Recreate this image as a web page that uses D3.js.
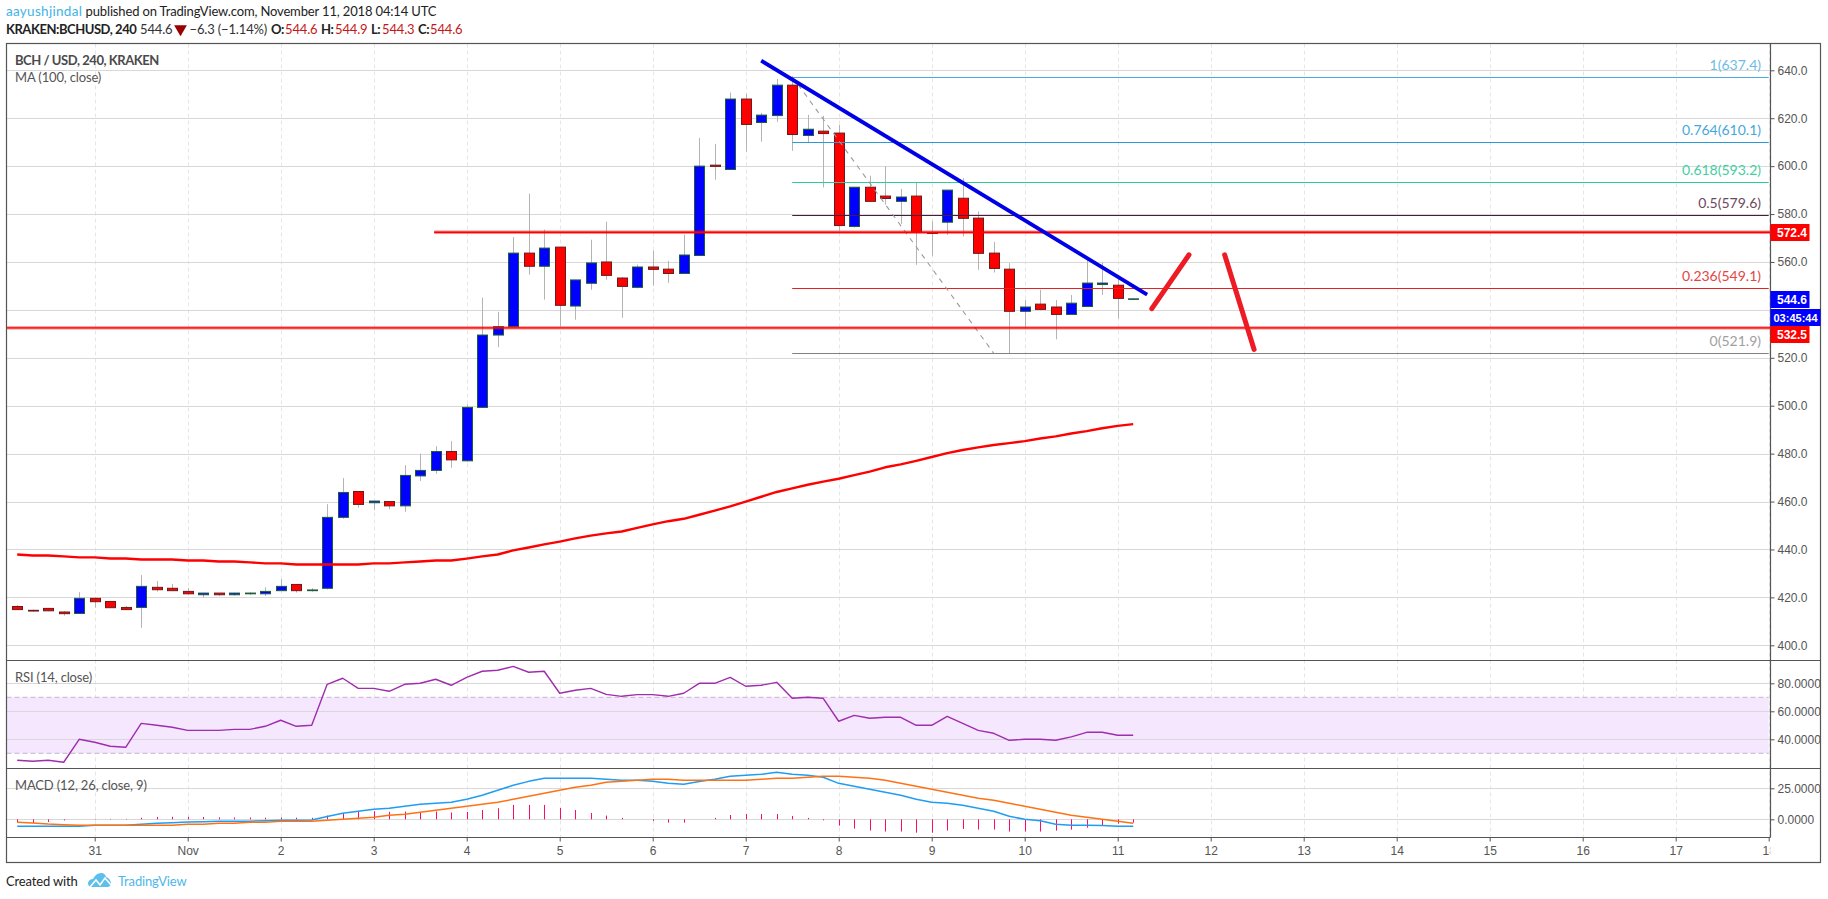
<!DOCTYPE html>
<html>
<head>
<meta charset="utf-8">
<title>BCHUSD 240</title>
<script src="https://cdn.jsdelivr.net/npm/d3@7"></script>
<style>
  html, body { margin: 0; padding: 0; background: #fff; }
  text { font-family: Lato, "Open Sans", sans-serif; }
  .axis text { font-family: "Liberation Sans", Arial, sans-serif; font-size: 12px; fill: #555; }
  .axis line { stroke: #555; }
  .axis path { display: none; }
</style>
</head>
<body>
<svg id="chart" width="1828" height="899"></svg>
<script>
// pane edges
const frame = {left: 6.5, right: 1820.5, top: 43.5, bottom: 862.5, axisX: 1770.5, xAxisY: 837.5};
const panes = {main: [43.5, 660.5], rsi: [660.5, 768.5], macd: [768.5, 837.5]};

// 4h candles, i = candles after Nov 1 00:00 [i, open, high, low, close]
const candles = [
  [-11,416.2,416.8,414.8,414.9],[-10,414.6,414.9,414.0,414.3],[-9,415.4,415.6,414.2,414.4],[-8,413.9,414.3,412.4,413.2],
  [-7,413.3,422.2,413.3,419.6],[-6,419.6,420.0,415.7,418.2],[-5,418.3,418.4,415.7,415.7],[-4,415.8,416.4,414.7,414.9],
  [-3,415.8,429.3,407.3,424.6],[-2,424.2,426.8,422.4,423.2],[-1,423.8,425.6,422.8,422.8],[0,422.5,423.9,421.1,421.5],
  [1,421.1,421.8,419.9,421.8],[2,421.8,421.8,420.6,421.1],[3,421.1,421.9,420.7,421.8],[4,421.5,422.1,421.0,421.8],
  [5,421.5,424.2,420.6,422.5],[6,422.8,427.6,422.8,424.6],[7,425.4,425.4,422.0,422.8],[8,422.8,423.8,422.4,423.1],
  [9,423.8,458.9,423.3,453.4],[10,453.4,469.8,452.8,463.8],[11,464.2,464.2,457.4,458.8],[12,459.5,460.2,456.4,460.2],
  [13,460.0,460.0,456.8,458.2],[14,458.2,475.2,455.7,470.9],[15,470.7,480.0,468.6,473.0],[16,473.0,483.1,471.6,480.9],
  [17,480.9,485.2,474.1,477.4],[18,477.0,500.5,476.6,499.3],[19,499.3,545.1,499.0,529.5],[20,529.5,539.2,524.4,533.0],
  [21,533.0,570.4,533.0,563.7],[22,563.7,588.5,554.7,558.2],[23,558.2,573.5,544.3,565.8],[24,566.2,566.2,533.1,541.9],
  [25,541.6,552.5,535.9,552.5],[26,551.1,569.3,548.4,559.6],[27,560.0,576.8,552.6,554.4],[28,553.3,553.7,536.7,549.8],
  [29,549.4,558.9,549.0,557.9],[30,557.9,564.7,550.1,556.9],[31,557.0,560.5,551.3,555.2],[32,555.2,571.4,555.2,562.9],
  [33,562.7,611.8,562.7,600.0],[34,600.4,609.3,594.3,599.9],[35,598.6,630.7,598.6,628.0],[36,628.0,630.2,606.0,617.4],
  [37,618.2,622.3,610.2,621.3],[38,621.1,636.4,618.5,633.8],[39,633.8,637.4,606.4,613.2],[40,612.8,621.4,610.0,615.4],
  [41,614.6,621.0,591.1,613.6],[42,613.8,617.2,573.0,575.2],[43,574.8,591.2,574.4,591.2],[44,591.2,596.0,585.3,585.3],
  [45,587.5,600.0,583.9,586.5],[46,585.3,590.5,575.9,587.1],[47,587.5,593.3,558.8,572.3],[48,572.3,577.0,562.6,571.9],
  [49,576.6,590.0,571.3,590.0],[50,586.6,595.0,570.7,578.2],[51,578.3,581.1,556.7,563.6],[52,563.7,568.4,555.6,557.3],
  [53,557.0,559.5,521.9,539.4],[54,539.4,544.1,532.0,541.2],[55,542.4,548.4,539.8,540.2],[56,541.2,544.1,527.7,538.1],
  [57,538.1,546.2,538.1,542.8],[58,541.4,561.6,541.4,551.2],[59,550.6,559.8,546.3,551.2],[60,550.3,554.0,536.4,544.8],
  [61,544.6,544.9,544.3,544.6]
];

// all indicator lists start at i = -11
const firstIndex = -11;
const ma100 = [437.9,437.5,437.5,437.1,436.7,436.7,436.2,436.2,435.8,435.8,435.8,435.4,435.4,435,435,434.6,434.2,434.2,433.7,433.7,433.7,433.7,433.7,434.2,434.2,434.6,435,435.4,435.4,436.2,437.1,437.9,439.6,440.8,442.1,443.3,444.6,445.8,446.7,447.5,449,450.5,451.8,452.8,454.5,456.2,458,460,462,464,465.5,467,468.3,469.5,471,472.5,474.3,475.5,477,478.6,480.2,481.5,482.6,483.6,484.4,485.2,486.3,487.2,488.4,489.4,490.6,491.6,492.3];
const rsi = [25,24.3,25,23.6,40,37.9,35,34.3,51.4,50,48.6,46.4,46.4,46.4,47.1,47.1,49.3,53.6,49.3,50,79.3,83.6,76.4,76.4,74.3,79.3,80,82.9,78.6,84.3,88.6,89.3,92.1,87.9,88.6,72.9,75,76.4,72.1,70.7,71.9,71.9,70.7,72.9,80,80,84.3,77.9,78.6,80.7,69.3,70,69.3,52.9,57.1,55,55.7,55.7,50,50,56.4,51.4,46.4,44.3,39.3,40,40,39.3,41.7,45,45,42.9,42.9];
const macd = [-5.6,-5.6,-5.6,-5.6,-5.6,-4.8,-4.8,-4.8,-4,-3.2,-2.7,-2.2,-1.9,-1.6,-1.6,-1.6,-1.1,-0.8,-0.8,-0.5,2.2,4.8,6.5,8.1,8.9,10.5,12.1,12.9,13.7,16.1,19.4,23.4,27.4,30.6,33.1,33.1,33.1,33.1,32.3,31.5,31.5,30.6,29,28.2,30.4,32.3,34.7,35.5,36.3,37.9,36.3,35.5,33.9,29,26.6,24.2,21.8,19.4,16.1,13.7,12.9,11.3,8.9,6.5,2.4,0,-1.1,-4,-4.8,-4.8,-5.1,-5.6,-5.6];
const signal = [-2.4,-3,-3.8,-4.3,-4.8,-4.8,-4.8,-4.8,-4.8,-4.8,-4.8,-4,-4,-3.2,-3.2,-2.4,-2.4,-1.6,-1.6,-1.6,-0.8,0,0.8,1.6,3.2,4,5.6,7.3,8.9,10.5,12.1,13.7,16.1,18.5,21,23.4,25.8,27.4,29.8,30.6,31.5,32.3,32.3,31.5,31.5,31.5,31.5,31.5,32.3,33.1,33.1,33.9,34.7,34.7,33.9,33.1,31.5,29,26.6,24.2,21.8,19.4,16.9,15.3,12.9,10.5,8.1,5.6,3.2,1.6,0,-1.6,-3.2];
const hist = [-2.4,-3,-2.2,-0.9,0,0.4,0.4,0.4,1.2,1.9,2,2,1.9,1.6,1.5,1.5,1.3,1.5,1.3,1.2,3,5,6.2,6.5,6,6.2,5.9,6.2,5.5,5.9,7.5,8.9,11.6,11.6,11.6,9.1,7.5,5.1,3,1.1,0,-1.3,-2.7,-2.7,0,1.1,3.5,4.3,4.3,4.3,2.7,1.1,-0.8,-5.1,-7.5,-9.1,-9.9,-9.9,-10.8,-10.8,-9.1,-7.8,-8.3,-8.3,-9.9,-9.9,-9.9,-9.1,-8.3,-6.7,-4.8,-3.5,-2.7];

const fibs = [
  {level: "1", price: 637.4, line: "#4aa9dd", text: "#6dbce6"},
  {level: "0.764", price: 610.1, line: "#2a9ad6", text: "#45a8dc"},
  {level: "0.618", price: 593.2, line: "#2dcb9a", text: "#3fcf9f"},
  {level: "0.5", price: 579.6, line: "#4a1c3c", text: "#6d4a60"},
  {level: "0.236", price: 549.1, line: "#e32222", text: "#e34545"},
  {level: "0", price: 521.9, line: "#808080", text: "#a0a0a0"}
];

const svg = d3.select("#chart");

const x = d3.scaleLinear().domain([0, 102]).range([187.7, 1768.7]);
const yPrice = d3.scaleLinear().domain([400, 640]).range([645.3, 70.3]);
const yRsi = d3.scaleLinear().domain([40, 80]).range([739.3, 683.3]);
const yMacd = d3.scaleLinear().domain([0, 25]).range([819.3, 788.3]);

// day ticks sit on every 6th candle
const dayTicks = d3.range(-6, 103, 6);
const dayLabel = (i) => {
  const d = i / 6 + 1;
  if (d === 0) return "31";
  if (d === 1) return "Nov";
  return String(d);
};

// vertical grid
svg.append("g").selectAll("line").data(dayTicks).enter().append("line")
  .attr("x1", (d) => Math.round(x(d)) + 0.5).attr("x2", (d) => Math.round(x(d)) + 0.5)
  .attr("y1", frame.top).attr("y2", frame.xAxisY)
  .attr("stroke", "#e6e6e6").attr("stroke-dasharray", "4 3");

// horizontal grids
function hGrid(values, scale) {
  svg.append("g").selectAll("line").data(values).enter().append("line")
    .attr("x1", frame.left).attr("x2", frame.axisX)
    .attr("y1", (d) => Math.round(scale(d)) + 0.5).attr("y2", (d) => Math.round(scale(d)) + 0.5)
    .attr("stroke", "#d8d8d8");
}
const priceTicks = d3.range(400, 641, 20);
hGrid(priceTicks, yPrice);

// rsi band
svg.append("rect").attr("x", frame.left).attr("width", 1768.7 - frame.left)
  .attr("y", yRsi(70)).attr("height", yRsi(30) - yRsi(70)).attr("fill", "#f4e7fe");
hGrid([40, 60, 80], yRsi);
[70, 30].forEach((v) => {
  svg.append("line").attr("x1", frame.left).attr("x2", 1768.7)
    .attr("y1", yRsi(v)).attr("y2", yRsi(v))
    .attr("stroke", "#c4b6cc").attr("stroke-dasharray", "5 3");
});
hGrid([0, 25], yMacd);

// candles
const candle = svg.append("g").selectAll("g").data(candles).enter().append("g");
candle.append("line")
  .attr("x1", (d) => Math.round(x(d[0])) + 0.5).attr("x2", (d) => Math.round(x(d[0])) + 0.5)
  .attr("y1", (d) => yPrice(d[2])).attr("y2", (d) => yPrice(d[3]))
  .attr("stroke", "#b4b4b4");
candle.append("rect")
  .attr("x", (d) => Math.round(x(d[0])) - 4.5)
  .attr("width", 10)
  .attr("y", (d) => yPrice(Math.max(d[1], d[4])))
  .attr("height", (d) => Math.max(0.5, Math.abs(yPrice(d[1]) - yPrice(d[4]))))
  .attr("fill", (d) => d[4] >= d[1] ? "#0000ff" : "#ff0000")
  .attr("stroke", (d) => d[4] >= d[1] ? "#1e5c3c" : "#6e1a1a");

// indicators
function series(values, scale, color, width) {
  const line = d3.line().x((d, i) => x(i + firstIndex)).y((d) => scale(d));
  svg.append("path").attr("d", line(values)).attr("fill", "none")
    .attr("stroke", color).attr("stroke-width", width).attr("stroke-linejoin", "round");
}
series(ma100, yPrice, "#ff0000", 2.4);
series(rsi, yRsi, "#a02cae", 1.4);

svg.append("g").selectAll("line").data(hist).enter().append("line")
  .attr("x1", (d, i) => Math.round(x(i + firstIndex)) + 0.5).attr("x2", (d, i) => Math.round(x(i + firstIndex)) + 0.5)
  .attr("y1", yMacd(0)).attr("y2", (d) => yMacd(d))
  .attr("stroke", "#ff0a68").attr("stroke-width", 1);
series(macd, yMacd, "#1f9df2", 1.5);
series(signal, yMacd, "#ff7214", 1.5);

// fib retracement
const fibStart = x(39);
fibs.forEach((f) => {
  svg.append("line").attr("x1", fibStart).attr("x2", 1768.7)
    .attr("y1", Math.round(yPrice(f.price)) + 0.5).attr("y2", Math.round(yPrice(f.price)) + 0.5)
    .attr("stroke", f.line).attr("stroke-width", 1.1);
  svg.append("text").attr("x", 1761).attr("y", yPrice(f.price) - 7)
    .attr("text-anchor", "end").attr("font-size", 14).attr("fill", f.text)
    .text(f.level + "(" + f.price.toFixed(1) + ")");
});
svg.append("line").attr("x1", x(39)).attr("y1", yPrice(637.4)).attr("x2", x(52)).attr("y2", yPrice(521.9))
  .attr("stroke", "#9a9a9a").attr("stroke-width", 1.1).attr("stroke-dasharray", "5 5");

// drawn support and resistance
function drawn(i1, p1, i2, p2, color, width, cap, opacity) {
  svg.append("line").attr("x1", x(i1)).attr("y1", yPrice(p1)).attr("x2", x(i2)).attr("y2", yPrice(p2))
    .attr("stroke", color).attr("stroke-width", width).attr("stroke-linecap", cap || "butt")
    .attr("stroke-opacity", opacity || 1);
}
[[15.9, 572.4], [-11.7, 532.5]].forEach((h) => {
  drawn(h[0], h[1], 102.1, h[1], "#ff0000", 3.4, "butt", 0.45);
  drawn(h[0], h[1], 102.1, h[1], "#ff0000", 1.4);
});
drawn(37, 644, 61.9, 546.4, "#0000e6", 3.8);
drawn(62.2, 540.5, 64.6, 563, "#ed1c24", 5, "round");
drawn(66.9, 563, 68.8, 523.5, "#ed1c24", 5, "round");

// axes
function rightAxis(scale, values, fmt) {
  return svg.append("g").attr("class", "axis").attr("transform", "translate(" + frame.axisX + ",0)")
    .call(d3.axisRight(scale).tickValues(values).tickFormat(fmt).tickSize(4).tickPadding(3));
}
// 540.0 sits under the price tags, so it keeps only its tick
rightAxis(yPrice, priceTicks, (d) => d === 540 ? "" : d3.format(".1f")(d));
rightAxis(yRsi, [40, 60, 80], d3.format(".4f"));
rightAxis(yMacd, [0, 25], d3.format(".4f"));

svg.append("g").attr("class", "axis").attr("transform", "translate(0," + frame.xAxisY + ")")
  .call(d3.axisBottom(x).tickValues(dayTicks).tickFormat(dayLabel).tickSize(4).tickPadding(3))
  .selectAll("text").attr("dy", "0.9em");

// the last day label is cut by the price axis column
svg.append("rect").attr("x", 1770.2).attr("y", frame.xAxisY + 1).attr("width", 49).attr("height", 23.5).attr("fill", "#fff");

// frame and pane separators
const stroke = "#555";
svg.append("rect").attr("x", frame.left).attr("y", frame.top)
  .attr("width", frame.right - frame.left).attr("height", frame.bottom - frame.top)
  .attr("fill", "none").attr("stroke", stroke).attr("stroke-width", 1.2);
[panes.main[1], panes.rsi[1], frame.xAxisY].forEach((y, n) => {
  svg.append("line").attr("x1", frame.left).attr("y1", y)
    .attr("x2", n === 2 ? frame.axisX : frame.right).attr("y2", y)
    .attr("stroke", stroke).attr("stroke-width", 1.2);
});
svg.append("line").attr("x1", frame.axisX).attr("x2", frame.axisX)
  .attr("y1", frame.top).attr("y2", frame.xAxisY).attr("stroke", stroke).attr("stroke-width", 1.2);

// price tags
const tags = [
  {label: "572.4", y: 224, h: 17, w: 39, fill: "#ff0000"},
  {label: "544.6", y: 291, h: 17, w: 39, fill: "#0000ff"},
  {label: "03:45:44", y: 309, h: 17, w: 50, fill: "#0000ff"},
  {label: "532.5", y: 326, h: 17, w: 39, fill: "#ff0000"}
];
tags.forEach((t) => {
  svg.append("rect").attr("x", frame.axisX).attr("y", t.y).attr("width", t.w).attr("height", t.h).attr("fill", t.fill);
  svg.append("text").attr("x", frame.axisX + (t.w === 50 ? 3 : 6.5)).attr("y", t.y + t.h / 2 + 4.2)
    .attr("fill", "#fff").attr("font-size", t.w === 50 ? 11 : 12).attr("font-weight", 700)
    .style("font-family", "'Liberation Sans', Arial, sans-serif").text(t.label);
});

// text helper, bold runs are set tighter to keep the reference widths
function label(xPos, yMid, str, color, weight) {
  return svg.append("text").attr("x", xPos).attr("y", yMid + 4.7)
    .attr("fill", color).attr("font-size", 13).attr("font-weight", weight || 400)
    .attr("letter-spacing", weight ? -0.45 : -0.15).text(str);
}

// pane legends
label(15, 60.7, "BCH / USD, 240, KRAKEN", "#4a4a4a", 700);
label(15, 77.7, "MA (100, close)", "#555");
label(15, 677.7, "RSI (14, close)", "#555");
label(15, 785.7, "MACD (12, 26, close, 9)", "#555");

// header
label(6, 11.7, "aayushjindal", "#3fb4e6").attr("font-size", 13.5).attr("letter-spacing", 0.3);
label(85.6, 11.7, "published on TradingView.com, November 11, 2018 04:14 UTC", "#222");
label(6, 29.7, "KRAKEN:BCHUSD, 240", "#222", 700);
label(140, 29.7, "544.6", "#333");
svg.append("path").attr("d", d3.symbol().type(d3.symbolTriangle).size(70)())
  .attr("transform", "translate(180.5,29) rotate(180)").attr("fill", "#990000");
label(189.5, 29.7, "−6.3 (−1.14%)", "#333");
[["O:", 271, "544.6", 285], ["H:", 321, "544.9", 335], ["L:", 371, "544.3", 382], ["C:", 418, "544.6", 430]].forEach((p) => {
  label(p[1], 29.7, p[0], "#222", 700);
  label(p[3], 29.7, p[2], "#c41818");
});

// footer
label(6, 881.7, "Created with", "#222");
label(118, 881.7, "TradingView", "#4db7e8");
const logo = svg.append("g").attr("transform", "translate(88,873)");
logo.append("path").attr("fill", "#5cbfec")
  .attr("d", "M0 10 Q1 6 5 6 Q8 0 13 0 Q17 0 18 4 Q22 5 23 10 Q23 14 19 14 L4 14 Q0 14 0 10 Z");
logo.append("path").attr("fill", "none").attr("stroke", "#fff").attr("stroke-width", 1.6)
  .attr("d", "M2 14 L8 7 L12 12 L17 5 L23 12");
</script>
</body>
</html>
